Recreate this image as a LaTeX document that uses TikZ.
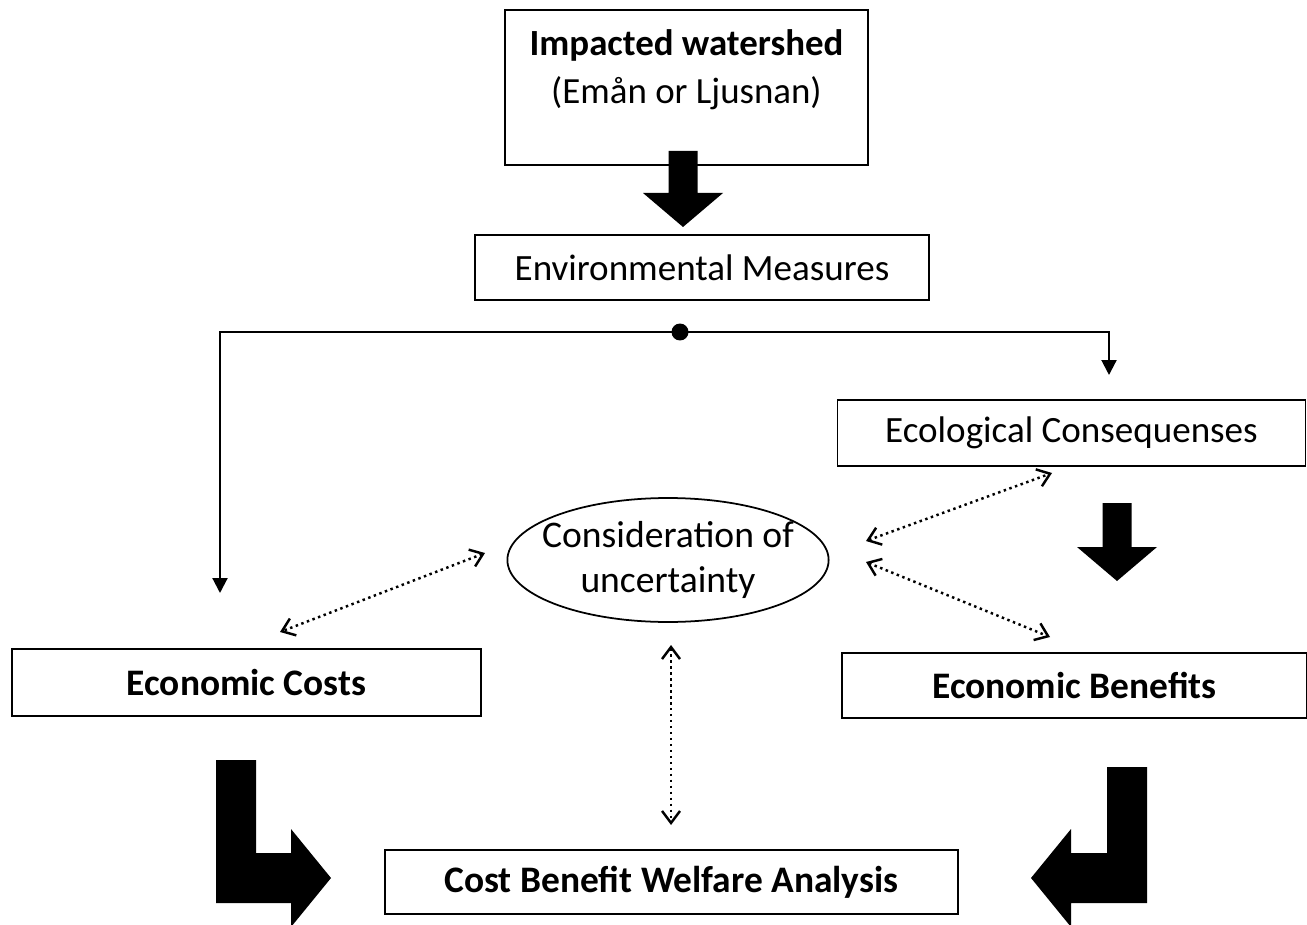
\documentclass[tikz,border=0pt]{standalone}
\usepackage{fontspec}
\setmainfont{Carlito}
\usetikzlibrary{arrows.meta,shapes.geometric}
\newcommand{\DownBlock}[3]{%
  % #1 shaft x, #2 shaft top, #3 tip y
  \fill (#1-14.5,#2) -- (#1+14.5,#2) -- (#1+14.5,#3-34) -- (#1+40,#3-34)
    -- (#1,#3) -- (#1-40,#3-34) -- (#1-14.5,#3-34) -- cycle;
}
\newcommand{\BentBlock}[5]{%
  % #1 bar x, #2 bar top, #3 tip x, #4 tip y, #5 direction (1 right, -1 left)
  \fill ({#1-20*(#5)},#2) -- ({#1+20*(#5)},#2) -- ({#1+20*(#5)},#4-25)
    -- ({#3-40*(#5)},#4-25) -- ({#3-40*(#5)},#4-49) -- (#3,#4)
    -- ({#3-40*(#5)},#4+49) -- ({#3-40*(#5)},#4+25) -- ({#1-20*(#5)},#4+25) -- cycle;
}

\begin{document}
\begin{tikzpicture}[
  x=0.02cm,y=-0.02cm,
  box/.style={draw,line width=1pt,inner sep=0pt,align=center},
  boldtext/.style={font=\bfseries\fontsize{21.3}{24}\selectfont},
  plaintext/.style={font=\fontsize{21.1}{24.5}\selectfont},
  feed/.style={line width=1.2pt,-{Triangle[length=3mm,width=3mm]}},
  doubt/.style={dotted,line width=1.4pt,
    {Straight Barb[length=2.4mm,width=3.6mm]}-{Straight Barb[length=2.4mm,width=3.6mm]}}
]
\useasboundingbox (0,0) rectangle (1307,925);

% Boxes
\node[box,minimum width=7.26cm,minimum height=3.1cm] (shed) at (686.5,87.5) {};
\node[align=center,inner sep=0pt,font=\fontsize{21}{27.2}\selectfont] (shedtext) at (686.5,70)
  {\textbf{Impacted watershed}\\(Emån or Ljusnan)};
\node[box,plaintext,minimum width=9.08cm,minimum height=1.3cm] (measures) at (702,267.5) {Environmental Measures};
\node[box,plaintext,minimum width=9.36cm,minimum height=1.32cm] (ecology) at (1071.5,433) {Ecological Consequenses};
\node[box,boldtext,minimum width=9.38cm,minimum height=1.34cm] (costs) at (246.5,682.5) {Economic Costs};
\node[box,boldtext,minimum width=9.3cm,minimum height=1.3cm] (benefits) at (1074.5,685.5) {Economic Benefits};
\node[box,boldtext,minimum width=11.46cm,minimum height=1.28cm] (cbwa) at (671.5,882) {Cost Benefit Welfare Analysis};
\node[ellipse,draw,line width=1pt,font=\fontsize{21.4}{24.5}\selectfont,align=center,
  minimum width=6.4cm,minimum height=2.48cm,inner xsep=-7pt,inner ysep=0pt]
  (doubt) at (668,560) {Consideration of\\[1pt]uncertainty};

% Block arrows
\DownBlock{683}{151}{227}
\DownBlock{1117}{503}{581}
\BentBlock{236}{760}{331}{878}{1}
\BentBlock{1127}{767}{1031}{878}{-1}

% Split of measures
\coordinate (split) at (680,332);
\coordinate (costsin) at (220,593);
\coordinate (ecoin) at (1109,375);
\fill (split) circle[radius=0.17cm];
\draw[feed] (split) -| (costsin);
\draw[feed] (split) -| (ecoin);

% Uncertainty links
\coordinate (dL1) at (485,553);
\coordinate (dL2) at (280,632);
\coordinate (dR1) at (866,541);
\coordinate (dR2) at (1052,473);
\coordinate (dR3) at (866,562);
\coordinate (dR4) at (1050,637);
\coordinate (dD1) at (671,645);
\coordinate (dD2) at (671,825);
\draw[doubt] (dL1) -- (dL2);
\draw[doubt] (dR1) -- (dR2);
\draw[doubt] (dR3) -- (dR4);
\draw[doubt] (dD1) -- (dD2);

\end{tikzpicture}
\end{document}
